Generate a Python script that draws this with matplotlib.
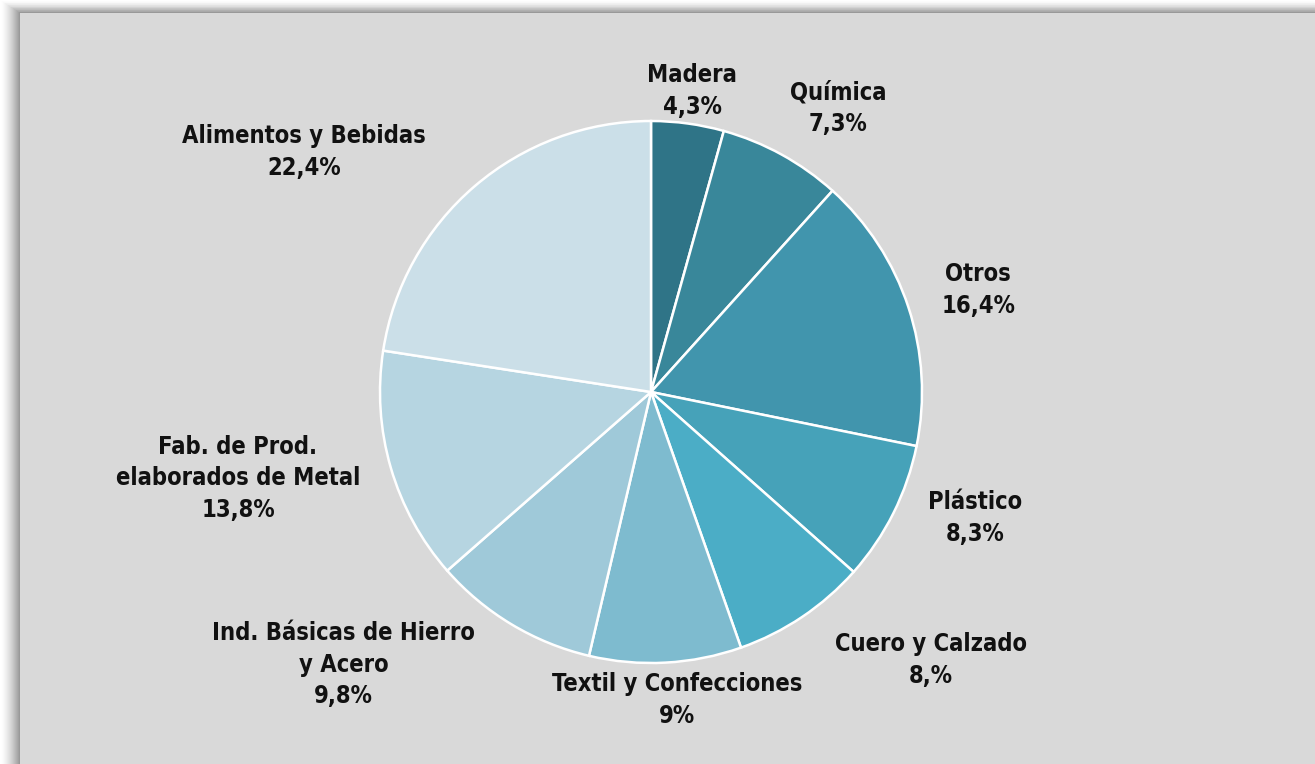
import numpy as np
import matplotlib.pyplot as plt
from matplotlib.patches import Rectangle

sectors = ['Madera', 'Química', 'Otros', 'Plástico', 'Cuero y Calzado',
           'Textil y Confecciones', 'Ind. Básicas de Hierro\ny Acero',
           'Fab. de Prod.\nelaborados de Metal', 'Alimentos y Bebidas']
shares = [4.3, 7.3, 16.4, 8.3, 8.0, 9.0, 9.8, 13.8, 22.4]
pct_text = ['4,3%', '7,3%', '16,4%', '8,3%', '8,%', '9%', '9,8%', '13,8%', '22,4%']
colors = ['#2f7487', '#39879a', '#4195ad', '#46a2b9', '#4badc6',
          '#7ebbcf', '#9fc9d9', '#b6d5e1', '#cbdfe8']

# label placement (distance from centre in radii, angle in degrees)
label_dist = [1.12, 1.255, 1.264, 1.283, 1.43, 1.14, 1.516, 1.557, 1.557]
label_ang = [82.2, 56.6, 17.3, -21.2, -43.8, -85.2, -138.4, -168.2, 145.3]

W, H = 1315, 764
cx, cy, r = 651, 392, 271

fig = plt.figure(figsize=(W / 100, H / 100), dpi=100)
fig.patch.set_facecolor('white')

# shadowed frame
bg = fig.add_axes([0, 0, 1, 1])
bg.set_xlim(0, W)
bg.set_ylim(H, 0)
bg.axis('off')
for i in range(20):
    g = 1.0 - 0.4 * (i / 19) ** 1.5
    bg.add_patch(Rectangle((i, i * 13 / 20), W, H, color=(g, g, g), lw=0))
bg.add_patch(Rectangle((20, 13), W, H, color='#d9d9d9', lw=0))

ax = fig.add_axes([0, 0, 1, 1])
ax.pie(shares, colors=colors, startangle=90, counterclock=False,
       center=(0, 0), radius=1, frame=True,
       wedgeprops=dict(edgecolor='white', linewidth=1.8))
ax.set_xlim(-cx / r, (W - cx) / r)
ax.set_ylim(-(H - cy) / r, cy / r)
ax.axis('off')

for name, p, d, a in zip(sectors, pct_text, label_dist, label_ang):
    t = np.deg2rad(a)
    ax.text(d * np.cos(t), d * np.sin(t), name + '\n' + p,
            ha='center', va='center', fontsize=17, fontweight='bold',
            fontstretch='condensed',
            family=['DejaVu Sans'],
            linespacing=1.4, color='#111111')

fig.savefig('out.png', dpi=100)
